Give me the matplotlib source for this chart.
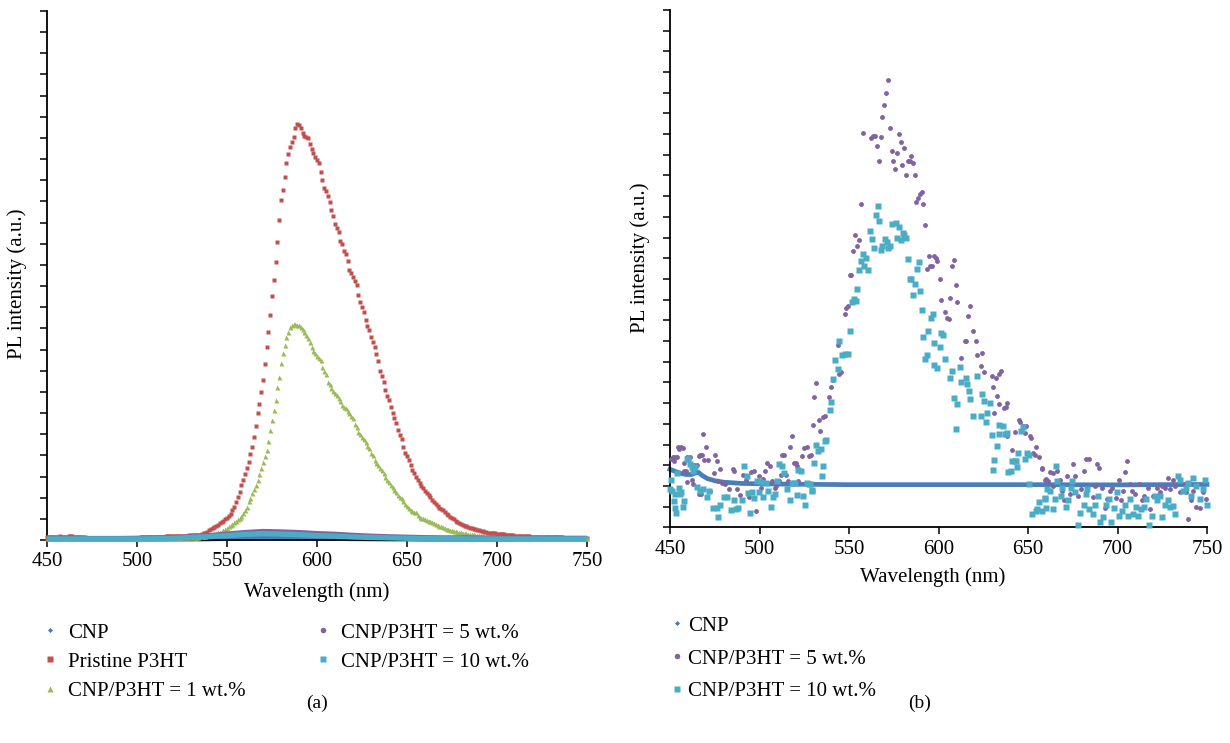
import numpy as np
import matplotlib
matplotlib.use("Agg")
import matplotlib.pyplot as plt
from matplotlib.lines import Line2D

plt.rcParams['font.family'] = ['Liberation Serif', 'DejaVu Serif']

# ---------------- data : panel (a) ----------------
wl_a = np.arange(450, 751, 1)          # 1 nm steps
wl_a_coarse = np.arange(450, 751, 10)  # 10 nm steps (low series)

pristine_p3ht = [
    0.15,0.15,0.16,0.15,0.14,0.15,0.16,0.17,0.16,0.15,
    0.15,0.16,0.17,0.18,0.17,0.16,0.15,0.14,0.14,0.13,
    0.12,0.12,0.11,0.11,0.10,0.10,0.10,0.09,0.09,0.09,
    0.08,0.08,0.08,0.08,0.08,0.08,0.09,0.09,0.09,0.09,
    0.09,0.09,0.10,0.10,0.10,0.10,0.10,0.11,0.11,0.11,
    0.11,0.11,0.12,0.12,0.12,0.12,0.13,0.13,0.13,0.14,
    0.14,0.14,0.15,0.15,0.16,0.16,0.17,0.17,0.18,0.18,
    0.17,0.18,0.18,0.19,0.19,0.20,0.20,0.21,0.21,0.22,
    0.22,0.23,0.23,0.24,0.24,0.25,0.28,0.31,0.35,0.40,
    0.45,0.50,0.55,0.60,0.66,0.72,0.79,0.85,0.90,0.97,
    1.05,1.12,1.22,1.40,1.55,1.80,2.05,2.25,2.62,2.85,
    3.10,3.40,3.70,4.05,4.40,4.85,5.40,6.00,6.45,7.00,
    7.55,8.30,9.10,9.85,10.65,11.55,12.30,13.15,14.10,15.10,
    16.05,16.55,17.15,17.80,18.25,18.55,18.80,19.05,19.45,19.65,
    19.60,19.45,19.25,19.10,19.05,19.00,18.70,18.46,18.30,18.10,
    17.98,17.80,17.40,17.00,16.65,16.50,16.28,15.95,15.60,15.30,
    14.95,14.75,14.55,14.15,14.00,13.65,13.50,13.20,12.75,12.60,
    12.45,12.25,12.05,11.60,11.25,11.00,10.76,10.40,10.12,9.92,
    9.60,9.37,9.12,8.80,8.45,8.00,7.75,7.45,7.10,6.80,
    6.60,6.30,6.00,5.78,5.55,5.20,4.95,4.75,4.40,4.10,
    3.95,3.80,3.55,3.30,3.15,3.00,2.85,2.70,2.55,2.45,
    2.32,2.22,2.12,2.02,1.88,1.80,1.70,1.62,1.52,1.46,
    1.40,1.32,1.25,1.18,1.10,1.04,0.98,0.92,0.86,0.80,
    0.75,0.72,0.68,0.65,0.62,0.58,0.55,0.52,0.50,0.47,
    0.45,0.43,0.41,0.39,0.37,0.35,0.34,0.33,0.32,0.31,
    0.30,0.29,0.28,0.27,0.26,0.25,0.24,0.23,0.22,0.22,
    0.21,0.20,0.20,0.19,0.19,0.18,0.18,0.17,0.17,0.16,
    0.16,0.16,0.15,0.15,0.15,0.14,0.14,0.14,0.13,0.13,
    0.13,0.13,0.12,0.12,0.12,0.12,0.12,0.11,0.11,0.11,
    0.11,0.11,0.11,0.10,0.10,0.10,0.10,0.10,0.10,0.10,
    0.10,
]

cnp_p3ht_1wt = [
    0.10,0.10,0.11,0.11,0.10,0.10,0.10,0.11,0.11,0.10,
    0.10,0.10,0.10,0.09,0.09,0.09,0.09,0.09,0.09,0.09,
    0.09,0.09,0.08,0.08,0.08,0.08,0.08,0.08,0.08,0.08,
    0.08,0.08,0.08,0.08,0.08,0.08,0.08,0.08,0.08,0.08,
    0.08,0.08,0.08,0.08,0.08,0.08,0.08,0.08,0.08,0.08,
    0.08,0.08,0.08,0.09,0.09,0.09,0.09,0.09,0.09,0.09,
    0.09,0.09,0.09,0.10,0.10,0.10,0.10,0.10,0.10,0.11,
    0.11,0.11,0.11,0.11,0.11,0.12,0.12,0.12,0.12,0.12,
    0.12,0.13,0.14,0.15,0.16,0.17,0.18,0.19,0.21,0.23,
    0.25,0.27,0.29,0.31,0.33,0.36,0.39,0.43,0.48,0.53,
    0.58,0.64,0.70,0.77,0.84,0.92,0.98,1.04,1.14,1.26,
    1.42,1.58,1.84,2.00,2.20,2.40,2.60,2.84,3.10,3.40,
    3.70,3.95,4.25,4.70,5.20,5.65,6.14,6.60,7.25,7.72,
    8.35,8.82,9.20,9.60,9.85,10.05,10.16,10.20,10.20,10.16,
    10.16,10.08,9.98,9.85,9.70,9.53,9.35,9.14,8.95,8.82,
    8.70,8.62,8.50,8.19,8.00,7.85,7.48,7.35,7.17,7.05,
    6.93,6.85,6.70,6.55,6.38,6.30,6.22,6.10,5.99,5.85,
    5.75,5.50,5.35,5.12,5.00,4.88,4.75,4.65,4.45,4.33,
    4.12,4.00,3.80,3.65,3.54,3.40,3.30,3.15,3.00,2.85,
    2.76,2.62,2.52,2.38,2.28,2.15,2.05,1.97,1.85,1.70,
    1.60,1.50,1.42,1.38,1.34,1.30,1.20,1.10,1.06,1.02,
    0.98,0.95,0.92,0.88,0.85,0.80,0.76,0.72,0.68,0.64,
    0.60,0.57,0.54,0.51,0.49,0.46,0.44,0.42,0.40,0.38,
    0.36,0.34,0.33,0.31,0.30,0.29,0.27,0.26,0.25,0.24,
    0.23,0.22,0.21,0.20,0.19,0.18,0.17,0.16,0.16,0.15,
    0.15,0.14,0.14,0.13,0.13,0.13,0.12,0.12,0.12,0.12,
    0.11,0.11,0.11,0.11,0.11,0.10,0.10,0.10,0.10,0.10,
    0.10,0.10,0.10,0.10,0.10,0.09,0.09,0.09,0.09,0.09,
    0.09,0.09,0.09,0.09,0.09,0.09,0.09,0.09,0.09,0.09,
    0.09,0.09,0.09,0.09,0.09,0.09,0.09,0.09,0.09,0.09,
    0.09,
]

cnp_a = [0.04,0.04,0.04,0.04,0.04,0.04,0.04,0.05,0.05,0.06,0.08,0.10,0.12,0.12,0.11,0.10,
         0.08,0.07,0.06,0.05,0.05,0.04,0.04,0.04,0.04,0.04,0.04,0.04,0.04,0.04,0.04]
cnp_p3ht_5wt_a = [0.08,0.08,0.07,0.07,0.07,0.08,0.09,0.11,0.15,0.20,0.28,0.35,0.40,0.38,0.35,0.30,
                  0.27,0.22,0.18,0.15,0.13,0.11,0.10,0.10,0.09,0.09,0.09,0.08,0.08,0.08,0.08]
cnp_p3ht_10wt_a = [0.05,0.05,0.05,0.05,0.05,0.05,0.06,0.08,0.12,0.16,0.21,0.27,0.30,0.28,0.25,0.21,
                   0.18,0.14,0.12,0.10,0.08,0.07,0.06,0.06,0.05,0.05,0.05,0.05,0.05,0.05,0.05]

# ---------------- data : panel (b) ----------------
cnp_b = [(450,2.80),(453,2.70),(456,2.60),(459,2.55),(462,2.55),(464,2.62),(466,2.65),(468,2.50),
         (471,2.35),(475,2.25),(480,2.18),(490,2.12),(500,2.10),(520,2.08),(550,2.06),(600,2.06),
         (650,2.06),(700,2.05),(750,2.07)]

cnp_p3ht_5wt_b = [
    (450.6,3.3),(451.5,3.4),(452.5,3.2),(452.8,3.4),(454,3.4),(454.6,3.9),(455,3.8),(456,3.9),(457,3.85),
    (457.8,3.1),(458,2.7),(459,2.7),(459.3,2.2),(459.5,3.4),(461,3.4),(462.5,2.3),(463,2.1),(463.5,3.0),
    (465,3.0),(466,1.6),(466.4,3.45),(467,3.5),(467.5,1.6),(468,3.5),(468.3,4.5),(469,3.25),(470,3.9),
    (471,3.25),(472.5,1.75),(474.5,2.6),(475.3,3.5),(476.3,3.2),(477,2.25),(478,2.8),(479,2.15),
    (480.5,2.1),(483,1.85),(485,2.8),(486,2.7),(487.3,1.85),(488.9,1.55),(490.9,2.55),(492.5,2.3),
    (493.9,1.45),(495.2,2.65),(496.8,2.7),(497.8,0.8),(499.8,2.5),(500.8,1.9),(501.8,2.35),(502.8,2.7),
    (504.2,3.1),(505.8,2.95),(506.8,2.25),(508.4,1.9),(509.2,2.0),(510.8,2.25),(511.8,2.55),(512.8,3.5),
    (513.8,3.5),(514.8,2.55),(515.8,2.25),(517.2,3.9),(518.4,4.4),(519.2,3.1),(520.3,3.1),(521.2,2.95),
    (521.7,2.25),(522.7,2.7),(523.7,3.45),(524.7,3.85),(526.3,3.9),(527.7,3.45),(528.7,3.5),(529.9,4.95),
    (530.6,6.3),(531.8,6.95),(533,5.2),(534,4.65),(535.6,5.35),(536.5,5.4),(538.9,6.3),(539.8,6.8),
    (541.3,7.1),(543.6,8.8),(544.6,7.4),(545.5,7.5),(547.6,10.3),(548.5,10.6),(549.4,10.7),(550.7,12.2),
    (551.2,12.2),(552.4,13.35),(553.5,14.1),(554.4,13.6),(555.5,13.9),(556.6,15.6),(557.6,19.05),
    (562.4,18.8),(563.5,18.9),(564.7,18.9),(565.9,18.4),(566.8,17.7),(567.6,18.85),(568.6,19.8),
    (569.8,20.4),(570.7,21.0),(571.8,21.6),(572.7,19.3),(573.8,18.2),(574.8,17.7),(575.8,17.3),
    (576.8,18.1),(577.7,19.0),(578.8,18.6),(579.8,17.5),(580.8,18.3),(581.8,17.0),(582.8,17.7),
    (584.1,17.7),(584.7,17.95),(585.9,17.6),(586.6,17.0),(587.5,15.7),(588.8,15.9),(589.6,16.1),
    (590.7,16.2),(591.6,15.6),(592.7,14.6),(593.3,12.5),(594.5,13.1),(595.4,12.6),(596.3,12.6),
    (597.5,13.1),(598.4,13.0),(599.3,12.85),(600.6,12.0),(601.4,11.0),(603.7,10.4),(604.7,10.1),
    (605.6,10.05),(606.4,11.1),(607.3,12.6),(608.4,12.9),(609.5,11.7),(610.4,10.9),(612.7,8.2),
    (614.6,9.0),(615.5,9.0),(616.5,10.2),(617.5,10.7),(619.5,9.5),(620.7,9.0),(621.6,8.3),(623.5,7.8),
    (624.5,8.4),(625.6,7.5),(629.7,7.3),(630.5,6.8),(630.8,5.5),(631.9,7.2),(632.5,6.35),(633.6,5.95),
    (633.9,7.4),(634.9,7.55),(636.4,5.75),(637.5,5.8),(638.3,4.4),(638.5,6.0),(641.3,3.75),(643.0,4.6),
    (644.8,5.2),(645.3,5.1),(647.3,4.9),(648.3,4.55),(649,4.9),(651.3,4.4),(651.8,4.3),(653,3.6),
    (653.9,3.5),(654.5,3.9),(656.3,3.4),(657.6,2.85),(657.9,2.8),(659.5,2.3),(659.9,2.35),(661.2,2.25),
    (662.2,2.65),(664.1,2.6),(664.2,2.0),(666.2,2.7),(667.8,2.3),(669.2,1.75),(670.2,1.3),(671.8,2.5),
    (673.2,1.6),(675.2,3.05),(676.2,2.5),(677.8,1.5),(679.8,1.85),(681.2,2.7),(682.6,3.3),(684.2,3.3),
    (686.2,1.45),(687.2,2.0),(688.6,3.05),(689.8,2.85),(691.2,1.9),(692.8,0.95),(694.2,1.35),
    (695.8,1.75),(697.1,1.9),(699.1,1.4),(700.7,2.3),(702.1,1.3),(703.1,1.75),(704.1,2.65),(705.1,3.2),
    (707.1,2.1),(708,1.75),(710,1.6),(712,2.1),(713.6,1.3),(715,1.5),(717,1.9),(718.4,0.9),(720,1.5),
    (722,1.9),(723.6,1.7),(725,2.0),(726.4,1.9),(728,2.4),(729.6,1.85),(731,2.3),(732,2.0),(733.6,2.5),
    (735,1.7),(737,2.1),(738,1.7),(739.6,0.4),(741,1.3),(742,1.75),(744,1.0),(746,0.95),(748,1.7),
    (749.5,1.35),
]

cnp_p3ht_10wt_b = [
    (450,1.85),(450.6,2.3),(451,1.75),(452,1.25),(452.6,1.6),(453,0.95),(453.2,0.7),(453.7,2.6),
    (455,1.9),(455.5,1.6),(456,1.7),(457,1.0),(458,1.25),(459.7,3.3),(460,3.3),(461.4,3.05),(462.1,2.9),
    (463,2.7),(464,2.9),(465,1.95),(466.5,1.75),(468.5,1.85),(470.5,1.45),(472,1.75),(474,0.95),
    (476,0.95),(477,0.5),(478,1.1),(480,1.45),(482,1.45),(483.9,0.85),(486,1.3),(487,0.9),(488,0.95),
    (490,1.3),(491.2,2.95),(492.8,2.5),(493.8,1.65),(494.8,0.7),(495.8,1.7),(497.2,1.4),(498.8,2.25),
    (499.8,1.7),(500.8,2.2),(502.2,1.45),(503.8,2.15),(504.8,1.75),(506.4,1.0),(507.8,1.45),(508.8,1.6),
    (509.8,2.25),(510.8,3.05),(512.4,2.95),(513.8,2.6),(515.2,1.85),(516.8,1.3),(518.4,2.15),
    (519.8,2.15),(520.8,1.55),(521.7,2.75),(523.1,2.7),(524.3,1.5),(525.3,1.1),(526.7,2.15),
    (527.9,2.1),(528.3,2.1),(529.1,1.75),(529.6,1.8),(530.6,3.1),(531.7,4.0),(532.7,3.7),(534.5,3.8),
    (534.8,2.5),(535.6,2.95),(536.7,4.15),(537.3,4.2),(539.3,5.65),(540.2,6.05),(541,7.15),(542.3,8.1),
    (543.6,7.65),(544.2,9.0),(546,8.3),(547.5,8.35),(549.2,8.35),(550.4,9.5),(551.8,10.9),
    (552.8,11.05),(553.7,10.95),(554.6,11.5),(555.5,12.45),(556.6,12.85),(557.6,13.2),(558.6,12.6),
    (559.6,13.0),(560.6,12.45),(562,14.3),(563,13.95),(563.8,13.5),(565,15.1),(566,15.5),(566.9,14.8),
    (567.7,13.4),(568.6,13.6),(570,13.95),(571,13.8),(571.6,13.5),(572.7,13.6),(573.9,14.65),
    (576,14.7),(576.9,14.0),(578,14.5),(578.8,13.9),(579.9,14.2),(581,14.1),(582.1,14.0),(582.7,12.95),
    (583.8,12.0),(584.7,12.0),(585.8,11.2),(586.8,11.75),(587.8,12.5),(588.9,12.8),(589.9,11.4),
    (590.7,10.5),(591.6,9.2),(592.7,8.15),(593.5,8.3),(594.2,9.5),(595.6,10.1),(596.7,10.3),
    (597.5,8.9),(597.7,7.85),(599,7.7),(600.6,8.7),(601.6,9.4),(602.5,9.3),(603.7,8.15),(606.5,7.2),
    (607.4,7.55),(608.4,6.25),(609.9,4.75),(610.4,5.95),(611.8,7.75),(612.5,7.0),(615.1,7.2),
    (616.1,6.9),(617.2,6.6),(617.5,6.2),(619.5,5.4),(621.6,7.3),(623.6,5.4),(624.5,6.45),(625.6,6.1),
    (626.6,5.1),(627.3,5.5),(628.6,6.0),(629.7,4.45),(630.4,2.75),(630.9,3.25),(632.5,3.95),
    (633.9,4.95),(634,4.5),(636,4.9),(637.3,4.5),(638.5,4.55),(638.7,2.65),(640.3,2.7),(641.3,3.2),
    (642.6,3.2),(643.3,3.2),(644.1,2.9),(644.3,3.6),(646.3,4.65),(647.3,4.85),(648.3,3.3),(649.3,3.6),
    (650.5,2.1),(650.6,3.5),(652.3,0.65),(654.3,0.8),(655.3,0.9),(656.3,1.2),(657.9,0.8),(659.3,1.35),
    (659.6,1.4),(660.3,0.95),(660.8,1.85),(662.2,1.75),(663.8,0.9),(665.2,1.35),(665.6,2.95),
    (666.2,2.25),(668.2,1.5),(669.2,1.9),(671.2,1.0),(672.2,1.3),(673.8,1.9),(674.6,2.25),(676.2,1.7),
    (678.2,0.1),(679.2,0.7),(681.2,1.1),(682.2,1.6),(683.2,1.85),(684.2,0.9),(686.2,0.65),(687.7,1.1),
    (689.1,1.5),(690.5,0.25),(692.1,0.5),(693.7,1.1),(695.1,1.35),(696.5,0.25),(698.1,0.95),
    (699.7,1.7),(701.1,0.55),(702.5,0.8),(704.1,1.1),(705.7,0.55),(707.1,1.35),(708.5,0.65),
    (710.1,1.0),(711.7,0.55),(713.1,0.9),(714.7,1.0),(716.1,1.35),(717.7,0.1),(719.1,0.55),(720.7,1.5),
    (722.1,1.3),(723.7,1.5),(725,0.5),(726.4,1.1),(728,1.3),(729.6,1.0),(731,1.05),(732,0.65),
    (733.6,2.5),(735,2.3),(736.4,1.75),(738,1.9),(739.6,2.15),(741,1.5),(742,2.4),(744,2.0),(746,1.35),
    (747.5,1.85),(748.9,2.3),(749.9,1.1),
]

labels_a = ['CNP', 'Pristine P3HT', 'CNP/P3HT = 1 wt.%', 'CNP/P3HT = 5 wt.%', 'CNP/P3HT = 10 wt.%']
labels_b = ['CNP', 'CNP/P3HT = 5 wt.%', 'CNP/P3HT = 10 wt.%']
x_ticks = [450, 500, 550, 600, 650, 700, 750]

C_BLUE, C_RED, C_GREEN, C_PURPLE, C_CYAN = '#4A7EBB', '#C0504D', '#9BBB59', '#8064A2', '#4BACC6'

# ---------------- figure ----------------
W, H = 1230, 743
fig = plt.figure(figsize=(W / 100, H / 100), dpi=100)


def px_axes(l, t, r, b):
    return fig.add_axes([l / W, 1 - b / H, (r - l) / W, (b - t) / H])


axa = px_axes(47, 11, 587, 540)
axb = px_axes(670, 9.8, 1207, 527.3)

for ax in (axa, axb):
    for s in ('top', 'right'):
        ax.spines[s].set_visible(False)
    for s in ('left', 'bottom'):
        ax.spines[s].set_linewidth(1.3)
    ax.set_xlim(450, 750)
    ax.set_ylim(0, 25)
    ax.set_xticks(x_ticks)
    ax.set_yticks(range(0, 26))
    ax.set_yticklabels([])
    ax.tick_params(direction='out', length=5, width=1.1, labelsize=15, colors='black', pad=4)

# panel (a)
axa.plot(wl_a_coarse, cnp_a, color=C_BLUE, lw=3.8, solid_capstyle='butt', clip_on=False, zorder=2)
axa.plot(wl_a, pristine_p3ht, ls='none', marker='s', ms=3.5, mec='none', mfc=C_RED, clip_on=False, zorder=3)
axa.plot(wl_a, cnp_p3ht_1wt, ls='none', marker='^', ms=3.6, mec='none', mfc=C_GREEN, clip_on=False, zorder=4)
axa.plot(wl_a_coarse, cnp_p3ht_5wt_a, color=C_PURPLE, lw=3.8, solid_capstyle='butt', clip_on=False, zorder=5)
axa.plot(wl_a_coarse, cnp_p3ht_10wt_a, color=C_CYAN, lw=3.8, solid_capstyle='butt', clip_on=False, zorder=6)

# panel (b)
bx, by = zip(*cnp_b)
axb.plot(bx, by, color=C_BLUE, lw=3.4, clip_on=False, zorder=2)
px5, py5 = zip(*cnp_p3ht_5wt_b)
axb.plot(px5, py5, ls='none', marker='o', ms=3.5, mec='none', mfc=C_PURPLE, clip_on=False, zorder=3)
px10, py10 = zip(*cnp_p3ht_10wt_b)
axb.plot(px10, py10, ls='none', marker='s', ms=3.7, mec='none', mfc=C_CYAN, clip_on=False, zorder=4)

# axis titles
FS = 15
fig.text(317 / W, 1 - 592 / H, 'Wavelength (nm)', ha='center', va='center', fontsize=FS)
fig.text(933 / W, 1 - 577 / H, 'Wavelength (nm)', ha='center', va='center', fontsize=FS)
fig.text(17 / W, 1 - 284 / H, 'PL intensity (a.u.)', ha='center', va='center', rotation=90, fontsize=FS)
fig.text(640 / W, 1 - 258 / H, 'PL intensity (a.u.)', ha='center', va='center', rotation=90, fontsize=FS)
fig.text(317 / W, 1 - 703 / H, '(a)', ha='center', va='center', fontsize=14)
fig.text(920 / W, 1 - 703 / H, '(b)', ha='center', va='center', fontsize=14)

# legend handles
h_cnp = Line2D([], [], ls='none', marker='D', ms=2.6, mec='none', mfc=C_BLUE)
h_red = Line2D([], [], ls='none', marker='s', ms=4.0, mec='none', mfc=C_RED)
h_green = Line2D([], [], ls='none', marker='^', ms=4.0, mec='none', mfc=C_GREEN)
h_purple = Line2D([], [], ls='none', marker='o', ms=4.0, mec='none', mfc=C_PURPLE)
h_cyan = Line2D([], [], ls='none', marker='s', ms=4.0, mec='none', mfc=C_CYAN)

common = dict(frameon=False, fontsize=FS, handlelength=0.6,
              borderpad=0, borderaxespad=0, loc='upper left')
fig.legend([h_cnp, h_red, h_green], labels_a[:3], bbox_to_anchor=(44 / W, 1 - 623 / H),
           labelspacing=0.46, handletextpad=0.55, **common)
fig.legend([h_purple, h_cyan], labels_a[3:], bbox_to_anchor=(317 / W, 1 - 623 / H),
           labelspacing=0.46, handletextpad=0.55, **common)
fig.legend([h_cnp, h_purple, h_cyan], labels_b, bbox_to_anchor=(671 / W, 1 - 616 / H),
           labelspacing=0.64, handletextpad=0.2, **common)

fig.savefig('out.png', dpi=100)
